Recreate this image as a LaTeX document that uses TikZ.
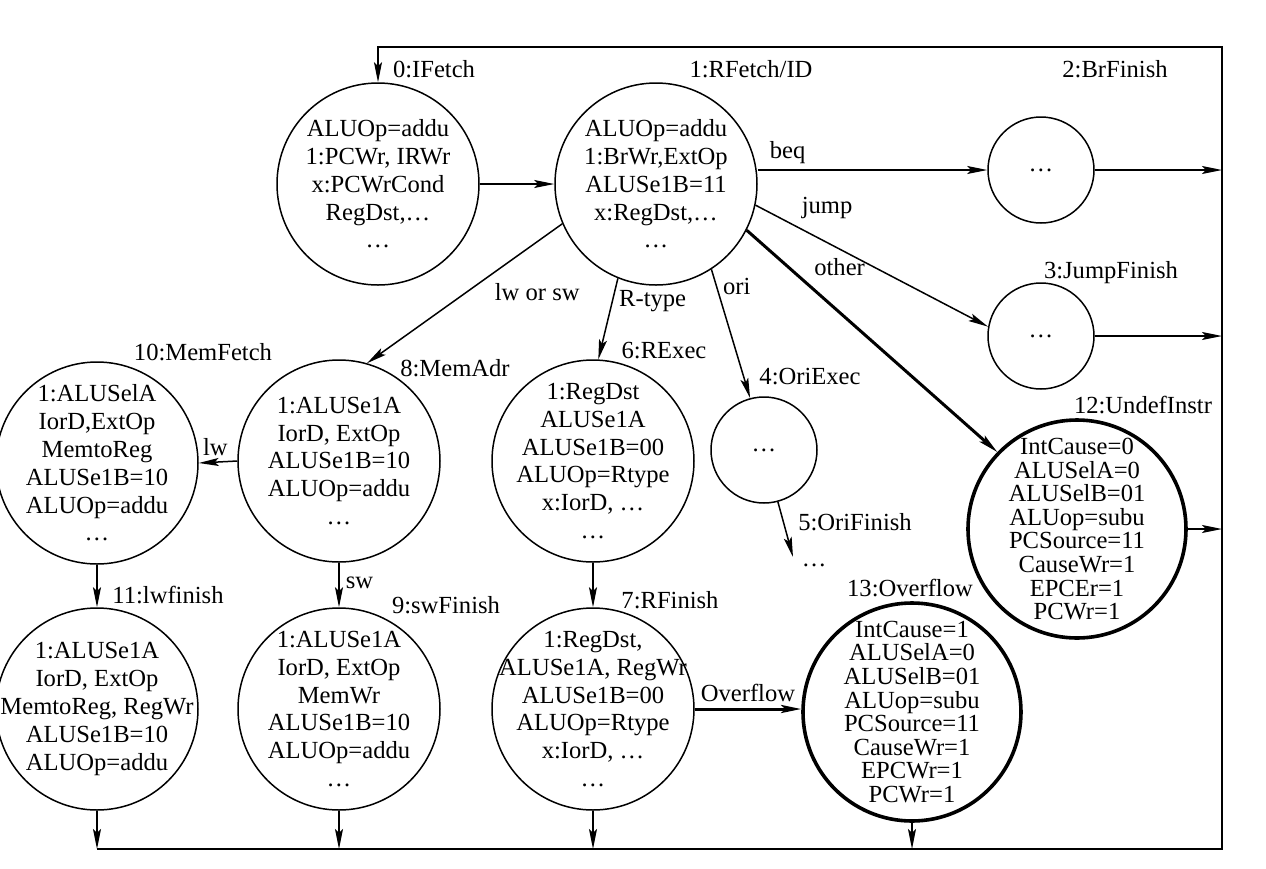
\documentclass[tikz,border=0pt]{standalone}
\usepackage{fontspec}
\setmainfont{Liberation Serif}
\usetikzlibrary{arrows.meta,calc,positioning}

\tikzset{
  fsmstate/.style  = {circle, draw, line width=0.75pt, minimum size=101pt, inner sep=-10pt, align=center},
  dotstate/.style  = {fsmstate, minimum size=53pt},
  trapstate/.style = {fsmstate, line width=1.8pt, minimum size=109pt, font=\fontsize{12.3}{11.8}\selectfont},
  statename/.style = {inner sep=0pt},
  heavy/.style     = {line width=1.5pt},
  lbl/.style       = {inner sep=3pt},
}

\begin{document}
\begin{tikzpicture}[>={Stealth[length=10pt,width=4pt,inset=2pt]}, x=0.5pt, y=-0.5pt, line width=0.75pt,
                    font=\fontsize{12.3}{13.9}\selectfont]

    \useasboundingbox (0,0) rectangle (1266,869);

    % states
    \node[fsmstate]  (ifetch)     at (378,184)  {ALUOp=addu\\1:PCWr, IRWr\\x:PCWrCond\\RegDst,\ldots\\\ldots};
    \node[fsmstate]  (rfetch)     at (656,184)  {ALUOp=addu\\1:BrWr,ExtOp\\ALUSe1B=11\\x:RegDst,\ldots\\\ldots};
    \node[dotstate]  (brfinish)   at (1041,170) {\ldots};
    \node[dotstate]  (jumpfinish) at (1041,336) {\ldots};
    \node[dotstate]  (oriexec)    at (764,450)  {\ldots};
    \node[fsmstate]  (rexec)      at (593,461)  {1:RegDst\\ALUSe1A\\ALUSe1B=00\\ALUOp=Rtype\\x:IorD, \ldots\\\ldots};
    \node[fsmstate]  (memadr)     at (339,461)  {1:ALUSe1A\\IorD, ExtOp\\ALUSe1B=10\\ALUOp=addu\\\ldots};
    \node[fsmstate]  (memfetch)   at (97,463)   {1:ALUSelA\\IorD,ExtOp\\MemtoReg\\ALUSe1B=10\\ALUOp=addu\\\ldots};
    \node[fsmstate]  (lwfinish)   at (97,709)   {1:ALUSe1A\\IorD, ExtOp\\MemtoReg, RegWr\\ALUSe1B=10\\ALUOp=addu};
    \node[fsmstate]  (swfinish)   at (339,709)  {1:ALUSe1A\\IorD, ExtOp\\MemWr\\ALUSe1B=10\\ALUOp=addu\\\ldots};
    \node[fsmstate]  (rfinish)    at (593,709)  {1:RegDst,\\ALUSe1A, RegWr\\ALUSe1B=00\\ALUOp=Rtype\\x:IorD, \ldots\\\ldots};
    \node[trapstate] (undef)      at (1077,529) {IntCause=0\\ALUSelA=0\\ALUSelB=01\\ALUop=subu\\PCSource=11\\CauseWr=1\\EPCEr=1\\PCWr=1};
    \node[trapstate] (overflow)   at (912,712)  {IntCause=1\\ALUSelA=0\\ALUSelB=01\\ALUop=subu\\PCSource=11\\CauseWr=1\\EPCWr=1\\PCWr=1};

    % state names
    \node[statename] (n0)  at (434,69)   {0:IFetch};
    \node[statename] (n1)  at (751,69)   {1:RFetch/ID};
    \node[statename] (n2)  at (1115,69)  {2:BrFinish};
    \node[statename] (n3)  at (1111,273) {3:JumpFinish};
    \node[statename] (n4)  at (810,377)  {4:OriExec};
    \node[statename] (n5)  at (855,522)  {5:OriFinish};
    \node[statename] (n6)  at (664,351)  {6:RExec};
    \node[statename] (n7)  at (670,600)  {7:RFinish};
    \node[statename] (n8)  at (455,368)  {8:MemAdr};
    \node[statename] (n9)  at (446,605)  {9:swFinish};
    \node[statename] (n10) at (203,352)  {10:MemFetch};
    \node[statename] (n11) at (168,595)  {11:lwfinish};
    \node[statename] (n12) at (1143,405) {12:UndefInstr};
    \node[statename] (n13) at (910,588)  {13:Overflow};

    % frame of the loop back to IFetch
    \coordinate (tl) at (378,47);
    \coordinate (tr) at (1222,47);
    \coordinate (br) at (1222,849);
    \coordinate (bl) at (97,849);
    \coordinate (orifinish) at (793,557);
    \node[anchor=base west, inner sep=2pt] (orinext) at (797,566) {\ldots};

    \draw[->] (bl) -- (br) -- (tr) -- (tl) -- (ifetch.north);

    \path[->]   (ifetch)                        edge                                                      (rfetch)
                (rfetch.east |- brfinish.west)  edge         node[lbl, above, pos=0.13]          {beq}      (brfinish.west)
                (rfetch.-12)                    edge         node[lbl, anchor=south west, pos=0.17] {jump}  (jumpfinish.170)
                (rfetch.-27)                    edge[heavy]  node[lbl, anchor=south west, pos=0.24] {other} (undef.136)
                (rfetch.-57)                    edge         node[lbl, anchor=west, pos=0.13]    {ori}      (oriexec.105)
                (rfetch.-112)                   edge         node[lbl, anchor=west, pos=0.28]    {R-type}   (rexec.87)
                (rfetch.-157)                   edge         node[lbl, anchor=north west, pos=0.38] {lw or sw} (memadr.74)
                (oriexec.-75)                   edge                                                      (orifinish);

    \path[->]   (memadr.west)                   edge         node[lbl, above, pos=0.57]          {lw}       (memfetch.east)
                (memadr)                        edge         node[lbl, right, pos=0.46]          {sw}       (swfinish)
                (memfetch)                      edge                                                      (lwfinish)
                (rexec)                         edge                                                      (rfinish)
                (rfinish.east)                  edge[heavy]  node[lbl, above]                    {Overflow} (rfinish.east -| overflow.west);

    \path[->]   (brfinish.east)                 edge                                                      (brfinish.east -| tr)
                (jumpfinish.east)               edge                                                      (jumpfinish.east -| tr)
                (undef.east)                    edge                                                      (undef.east -| tr)
                (lwfinish.south)                edge                                                      (lwfinish.south |- bl)
                (swfinish.south)                edge                                                      (swfinish.south |- bl)
                (rfinish.south)                 edge                                                      (rfinish.south |- bl)
                (overflow.south)                edge                                                      (overflow.south |- bl);

\end{tikzpicture}
\end{document}
